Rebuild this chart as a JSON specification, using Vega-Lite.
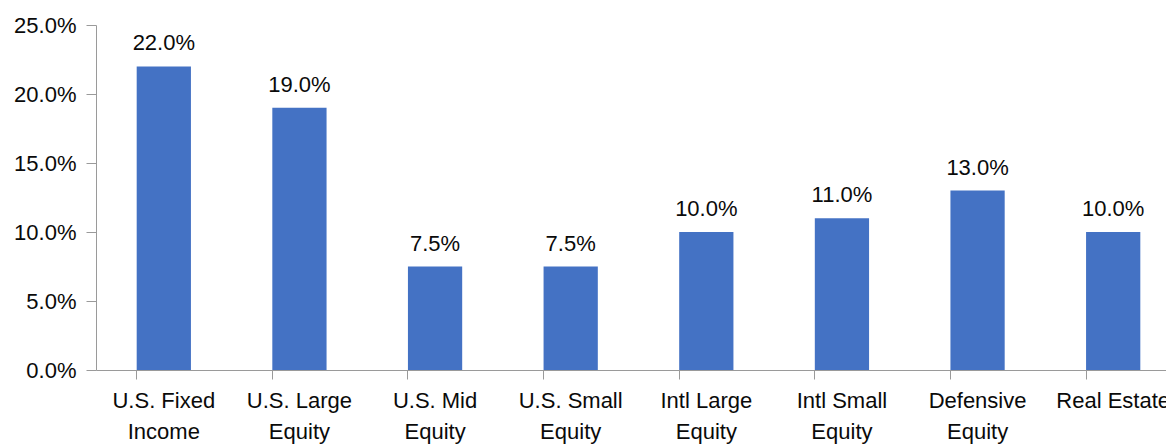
{
  "$schema": "https://vega.github.io/schema/vega-lite/v6.json",
  "autosize": {"type": "none"},
  "padding": {"left": 96, "top": 25, "right": 0, "bottom": 74},
  "width": 1070,
  "height": 345,
  "background": "white",
  "config": {
    "view": {"stroke": null},
    "font": "Liberation Sans"
  },
  "data": {
    "values": [
      {"category": "U.S. Fixed Income", "weight": 0.22},
      {"category": "U.S. Large Equity", "weight": 0.19},
      {"category": "U.S. Mid Equity", "weight": 0.075},
      {"category": "U.S. Small Equity", "weight": 0.075},
      {"category": "Intl Large Equity", "weight": 0.10},
      {"category": "Intl Small Equity", "weight": 0.11},
      {"category": "Defensive Equity", "weight": 0.13},
      {"category": "Real Estate", "weight": 0.10}
    ]
  },
  "encoding": {
    "x": {
      "field": "category",
      "type": "nominal",
      "sort": null,
      "scale": {"range": [0, 1085], "paddingInner": 0.6, "paddingOuter": 0.3},
      "axis": {
        "title": null,
        "labelAngle": 0,
        "labelFont": "Liberation Sans",
        "labelFontSize": 22,
        "labelColor": "#0a0a0a",
        "labelPadding": 11,
        "labelLineHeight": 31,
        "labelBaseline": "top",
        "labelExpr": "datum.label == 'Real Estate' ? datum.label : split(replace(datum.label, /^(.*) (\\S+)$/, '$1|$2'), '|')",
        "bandPosition": 0,
        "tickSize": 9,
        "tickColor": "#9a9a9a",
        "domainColor": "#9a9a9a",
        "labelOverlap": false,
        "labelLimit": 0
      }
    },
    "y": {
      "field": "weight",
      "type": "quantitative",
      "scale": {"domain": [0, 0.25], "nice": false},
      "axis": {
        "title": null,
        "values": [0, 0.05, 0.1, 0.15, 0.2, 0.25],
        "format": ".1%",
        "grid": false,
        "labelFont": "Liberation Sans",
        "labelFontSize": 22,
        "labelColor": "#0a0a0a",
        "labelPadding": 10,
        "tickSize": 10,
        "tickColor": "#9a9a9a",
        "domainColor": "#9a9a9a"
      }
    }
  },
  "layer": [
    {"mark": {"type": "bar", "color": "#4472C4"}},
    {
      "mark": {"type": "text", "baseline": "alphabetic", "dy": -16, "fontSize": 22, "font": "Liberation Sans", "color": "#0a0a0a"},
      "encoding": {"text": {"field": "weight", "type": "quantitative", "format": ".1%"}}
    }
  ]
}
